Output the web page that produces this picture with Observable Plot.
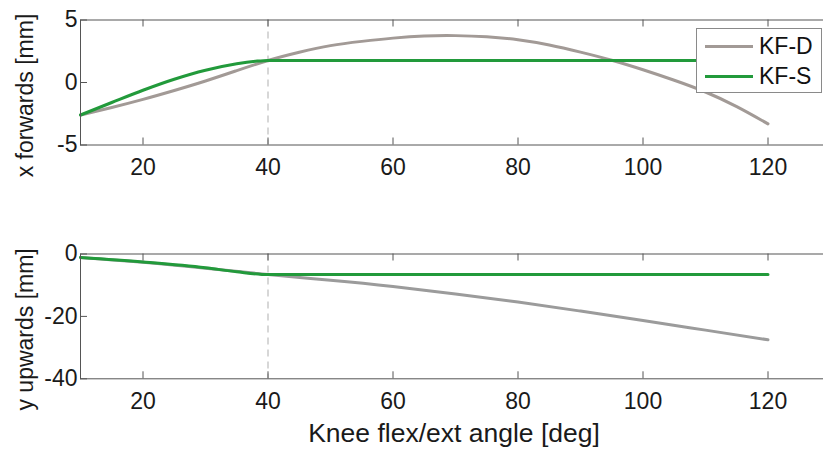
<!DOCTYPE html>
<html>
<head>
<meta charset="utf-8">
<script src="https://cdn.jsdelivr.net/npm/d3@7"></script>
<script src="https://cdn.jsdelivr.net/npm/@observablehq/plot@0.6"></script>
<style>
  html, body { margin: 0; padding: 0; background: #fff; overflow: hidden; }
  #wrap { position: relative; width: 823px; height: 450px; overflow: hidden; font-family: "Liberation Sans", Arial, sans-serif; }
  #wrap svg { display: block; overflow: hidden; }
  #legend { position: absolute; left: 696px; top: 28px; border: 1px solid #8a8a8a; background: #fff; padding: 2px 0 0 8px; box-sizing: border-box; height: 65px; width: 126px; }
  .row { display: flex; align-items: center; height: 30px; }
  .swatch { width: 48px; height: 0; border-top: 3px solid; margin-right: 6px; }
  .lab { font-size: 23px; color: #111; line-height: 30px; }
</style>
</head>
<body>
<div id="wrap"></div>
<script>
// ---- data ----
const series = ["KF-D", "KF-S"];
const colors = ["#a29a96", "#229a3b"];
const colorsBottom = ["#9b9b9b", "#229a3b"];

// top panel: x forwards [mm]
const topAngleD = [10, 15, 20, 25, 30, 35, 40, 45, 50, 55, 60, 65, 70, 75, 80, 85, 90, 95, 100, 105, 110, 115, 120];
const topValD   = [-2.6, -2.0, -1.35, -0.64, 0.12, 0.95, 1.76, 2.42, 2.95, 3.29, 3.55, 3.72, 3.75, 3.66, 3.42, 3.0, 2.43, 1.78, 1.02, 0.18, -0.76, -1.93, -3.31];
const topAngleS = [10, 15, 20, 25, 30, 35, 38, 40, 120];
const topValS   = [-2.6, -1.6, -0.62, 0.26, 0.98, 1.5, 1.7, 1.77, 1.77];

// bottom panel: y upwards [mm]
const botAngleD = [10, 20, 30, 40, 50, 60, 70, 80, 90, 100, 110, 120];
const botValD   = [-1.1, -2.65, -4.55, -6.6, -8.4, -10.4, -12.8, -15.4, -18.3, -21.3, -24.4, -27.5];
const botAngleS = [10, 20, 30, 35, 40, 120];
const botValS   = [-1.1, -2.55, -4.4, -5.7, -6.6, -6.6];

const xTicks = [20, 40, 60, 80, 100, 120];
const yTicksTop = [-5, 0, 5];
const yTicksBot = [-40, -20, 0];
const splitAngle = [40];
const xLabel = "Knee flex/ext angle [deg]";
const yLabelTop = "x forwards [mm]";
const yLabelBot = "y upwards [mm]";

const toRows = (xs, ys) => xs.map((x, i) => ({x, y: ys[i]}));

const W = 823, ML = 80, MR = -7;
const frameW = W - ML - MR;
const axisColor = "#555";
const textColor = "#1a1a1a";
const font = "'Liberation Sans', Arial, sans-serif";
const fmt = d => String(d);

function panel({height, mt, mb, yDomain, yTicks, dRows, sRows, dColor, sColor, yLabel, extra}) {
  const fh = height - mt - mb;
  return Plot.plot({
    width: W, height, marginLeft: ML, marginRight: MR, marginTop: mt, marginBottom: mb,
    style: {fontFamily: font, fontSize: "23px", color: textColor, background: "#fff"},
    x: {domain: [10, 130]},
    y: {domain: yDomain},
    marks: [
      Plot.ruleX(splitAngle, {x: d => d, stroke: "#bdbdbd", strokeWidth: 1.2, strokeDasharray: "7,5"}),
      Plot.line(dRows, {x: "x", y: "y", stroke: dColor, strokeWidth: 3, curve: "natural"}),
      Plot.line(sRows, {x: "x", y: "y", stroke: sColor, strokeWidth: 3, curve: "monotone-x"}),
      Plot.tickX(xTicks, {x: d => d, insetTop: fh - 7, stroke: axisColor}),
      Plot.tickX(xTicks, {x: d => d, insetBottom: fh - 7, stroke: axisColor}),
      Plot.tickY(yTicks, {y: d => d, insetRight: frameW - 7, stroke: axisColor}),
      Plot.tickY(yTicks, {y: d => d, insetLeft: frameW - 7, stroke: axisColor}),
      Plot.frame({stroke: axisColor, strokeWidth: 1}),
      Plot.axisX({ticks: xTicks, tickFormat: fmt, tickSize: 0, tickPadding: 13.5, label: null, fontSize: 23, fill: textColor}),
      Plot.axisY({ticks: yTicks, tickFormat: fmt, tickSize: 0, tickPadding: 3, label: null, fontSize: 23, fill: textColor}),
      Plot.text([yLabel], {text: d => d, frameAnchor: "left", textAnchor: "middle", lineAnchor: "middle", rotate: -90, dx: -54.5, dy: 13, fontSize: 23, fill: textColor}),
      ...(extra || [])
    ]
  });
}

const topPanel = panel({
  height: 182, mt: 19.5, mb: 37.5, yDomain: [-5, 5], yTicks: yTicksTop,
  dRows: toRows(topAngleD, topValD), sRows: toRows(topAngleS, topValS),
  dColor: colors[0], sColor: colors[1], yLabel: yLabelTop
});
const bottomPanel = panel({
  height: 268, mt: 71.5, mb: 71.7, yDomain: [-40, 0], yTicks: yTicksBot,
  dRows: toRows(botAngleD, botValD), sRows: toRows(botAngleS, botValS),
  dColor: colorsBottom[0], sColor: colorsBottom[1], yLabel: yLabelBot,
  extra: [Plot.text([xLabel], {text: d => d, frameAnchor: "bottom", textAnchor: "middle", lineAnchor: "middle", dx: -1.5, dy: 55, fontSize: 26.5, fill: textColor})]
});

const wrap = document.getElementById("wrap");
wrap.appendChild(topPanel);
wrap.appendChild(bottomPanel);

const legend = document.createElement("div");
legend.id = "legend";
series.forEach((s, i) => {
  const row = document.createElement("div");
  row.className = "row";
  const sw = document.createElement("div");
  sw.className = "swatch";
  sw.style.borderTopColor = colors[i];
  const lab = document.createElement("span");
  lab.className = "lab";
  lab.textContent = s;
  row.appendChild(sw);
  row.appendChild(lab);
  legend.appendChild(row);
});
wrap.appendChild(legend);
</script>
</body>
</html>
